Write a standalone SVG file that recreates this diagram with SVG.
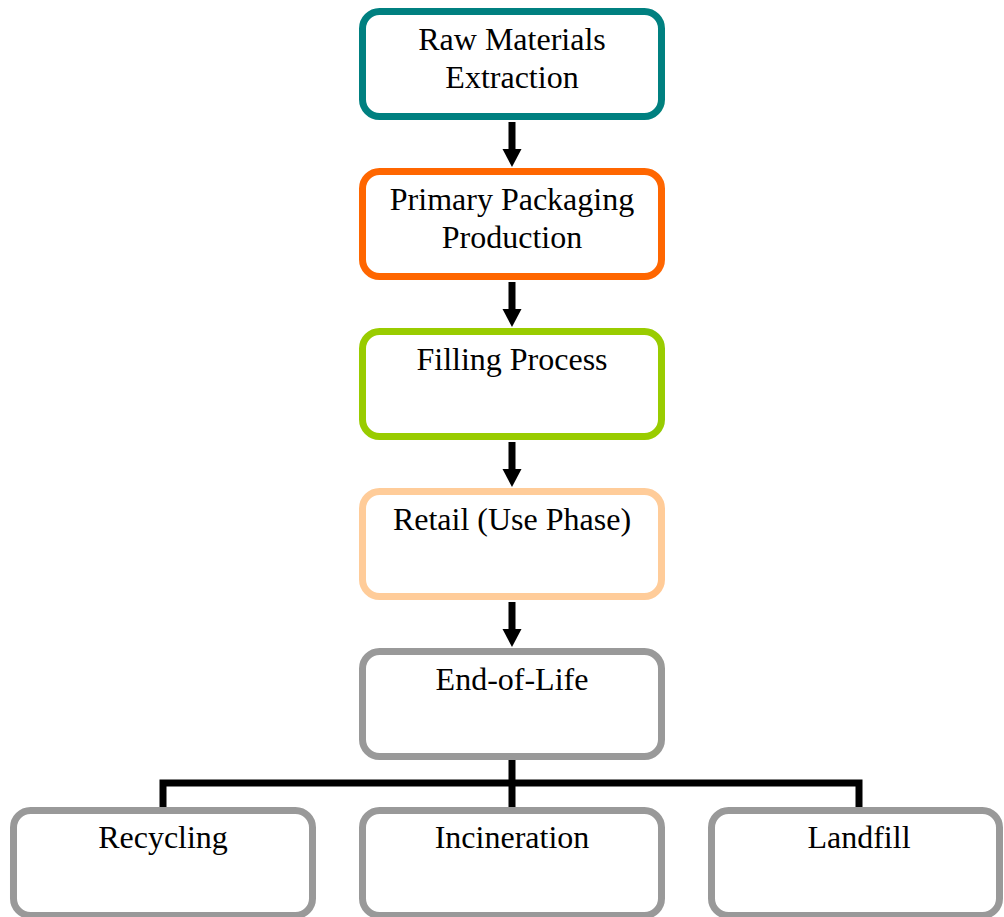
<svg xmlns="http://www.w3.org/2000/svg" width="1004" height="917" viewBox="0 0 1004 917">
<style>
.box{fill:#fff;stroke-width:7}
.t{font-family:"Liberation Serif","Times New Roman",serif;font-size:32px;fill:#000;text-anchor:middle}
.ln{stroke:#000;stroke-width:7;fill:none}
</style>
<defs>
<polygon id="ah" points="-9.5,0 9.5,0 0,18" fill="#000"/>
</defs>
<rect width="1004" height="917" fill="#fff"/>
<g id="connectors">
<line class="ln" x1="512" y1="122" x2="512" y2="150"/>
<use href="#ah" x="512" y="149"/>
<line class="ln" x1="512" y1="282" x2="512" y2="310"/>
<use href="#ah" x="512" y="309"/>
<line class="ln" x1="512" y1="442" x2="512" y2="470"/>
<use href="#ah" x="512" y="469"/>
<line class="ln" x1="512" y1="602" x2="512" y2="630"/>
<use href="#ah" x="512" y="629"/>
<line class="ln" x1="512" y1="759" x2="512" y2="808"/>
<polyline class="ln" points="163,808 163,783 859,783 859,808"/>
</g>
<g id="raw">
<rect class="box" x="362.5" y="11.5" width="299" height="105" rx="17" stroke="#008080"/>
<text class="t" x="512" y="50">Raw Materials</text>
<text class="t" x="512" y="88">Extraction</text>
</g>
<g id="primary">
<rect class="box" x="362.5" y="171.5" width="299" height="105" rx="17" stroke="#FF6600"/>
<text class="t" x="512" y="210">Primary Packaging</text>
<text class="t" x="512" y="248">Production</text>
</g>
<g id="filling">
<rect class="box" x="362.5" y="331.5" width="299" height="105" rx="17" stroke="#99CC00"/>
<text class="t" x="512" y="370">Filling Process</text>
</g>
<g id="retail">
<rect class="box" x="362.5" y="491.5" width="299" height="105" rx="17" stroke="#FFCC99"/>
<text class="t" x="512" y="530">Retail (Use Phase)</text>
</g>
<g id="eol">
<rect class="box" x="362.5" y="651.5" width="299" height="105" rx="17" stroke="#999999"/>
<text class="t" x="512" y="690">End-of-Life</text>
</g>
<g id="recycling">
<rect class="box" x="13.5" y="810.5" width="299" height="105" rx="17" stroke="#999999"/>
<text class="t" x="163" y="848">Recycling</text>
</g>
<g id="incineration">
<rect class="box" x="362.5" y="810.5" width="299" height="105" rx="17" stroke="#999999"/>
<text class="t" x="512" y="848">Incineration</text>
</g>
<g id="landfill">
<rect class="box" x="711.5" y="810.5" width="288" height="105" rx="17" stroke="#999999"/>
<text class="t" x="859" y="848">Landfill</text>
</g>
</svg>
